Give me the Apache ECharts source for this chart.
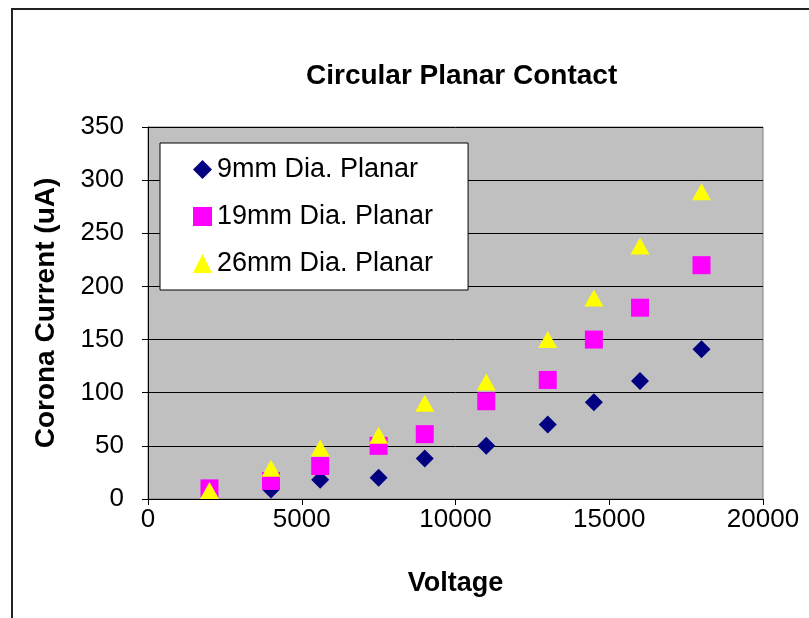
<!DOCTYPE html>
<html>
<head>
<meta charset="utf-8">
<script src="https://cdn.jsdelivr.net/npm/echarts@6/dist/echarts.min.js"></script>
<style>
html,body{margin:0;padding:0;background:#fff;}
#chart{width:809px;height:618px;}
</style>
</head>
<body>
<div id="chart"></div>
<script>
// data
var names = ['9mm Dia. Planar', '19mm Dia. Planar', '26mm Dia. Planar'];
var volt9 = [4000, 5600, 7500, 9000, 11000, 13000, 14500, 16000, 18000];
var cur9 = [9, 18, 20, 38, 50, 70, 91, 111, 141];
var volt19 = [2000, 4000, 5600, 7500, 9000, 11000, 13000, 14500, 16000, 18000];
var cur19 = [10, 17, 31, 50, 61, 92, 112, 150, 180, 220];
var volt26 = [2000, 4000, 5600, 7500, 9000, 11000, 13000, 14500, 16000, 18000];
var cur26 = [8, 29, 48, 60, 90, 110, 150, 189, 238, 289];

var font = '"Liberation Sans", Arial, sans-serif';

function pairs(xs, ys){
	var out = [];
	for (var i = 0; i < xs.length; i++) {
		out.push([xs[i], ys[i]]);
	}
	return out;
}

var myChart = echarts.init(document.getElementById('chart'));
var option = {
	backgroundColor: '#fff',
	animation: false,
	title: {
		text: 'Circular Planar Contact',
		left: 301,
		top: 57,
		textStyle: {fontFamily: font, fontSize: 28, fontWeight: 'bold', color: '#000'}
	},
	graphic: [{
		type: 'rect',
		shape: {x: 12, y: 9, width: 900, height: 700},
		style: {fill: 'none', stroke: '#222', lineWidth: 2},
		z: 100
	}],
	legend: {
		orient: 'vertical',
		left: 160,
		top: 143,
		padding: [13, 35, 13, 33],
		itemWidth: 19,
		itemHeight: 19,
		itemGap: 20,
		backgroundColor: '#fff',
		borderColor: '#000',
		borderWidth: 1,
		selectedMode: false,
		textStyle: {fontFamily: font, fontSize: 27, lineHeight: 27, color: '#000'},
		data: names
	},
	grid: {
		left: 148,
		top: 127,
		width: 615,
		height: 372,
		show: true,
		backgroundColor: '#C0C0C0',
		borderColor: '#808080',
		borderWidth: 1
	},
	xAxis: {
		type: 'value',
		min: 0,
		max: 20000,
		interval: 5000,
		name: 'Voltage',
		nameLocation: 'middle',
		nameGap: 71,
		nameTextStyle: {fontFamily: font, fontSize: 27, fontWeight: 'bold', color: '#000'},
		axisLine: {show: true, lineStyle: {color: '#000', width: 1}},
		axisTick: {show: true, inside: false, length: 6, lineStyle: {color: '#000'}},
		axisLabel: {fontFamily: font, fontSize: 26, color: '#000', margin: 8,
			formatter: function (v) { return String(v); }},
		splitLine: {show: false}
	},
	yAxis: {
		type: 'value',
		min: 0,
		max: 350,
		interval: 50,
		name: 'Corona Current (uA)',
		nameLocation: 'middle',
		nameGap: 88,
		nameTextStyle: {fontFamily: font, fontSize: 28, fontWeight: 'bold', color: '#000'},
		axisLine: {show: true, lineStyle: {color: '#000', width: 1}},
		axisTick: {show: true, inside: false, length: 6, lineStyle: {color: '#000'}},
		axisLabel: {fontFamily: font, fontSize: 26, color: '#000', margin: 24},
		splitLine: {show: true, lineStyle: {color: '#000', width: 1}}
	},
	series: [
		{
			name: names[0],
			type: 'scatter',
			symbol: 'diamond',
			symbolSize: 18,
			itemStyle: {color: '#000080', opacity: 1},
			data: pairs(volt9, cur9)
		},
		{
			name: names[1],
			type: 'scatter',
			symbol: 'rect',
			symbolSize: 18,
			itemStyle: {color: '#FF00FF', opacity: 1},
			data: pairs(volt19, cur19)
		},
		{
			name: names[2],
			type: 'scatter',
			symbol: 'triangle',
			symbolSize: [19, 17],
			itemStyle: {color: '#FFFF00', opacity: 1},
			data: pairs(volt26, cur26)
		}
	]
};
myChart.setOption(option);
</script>
</body>
</html>
